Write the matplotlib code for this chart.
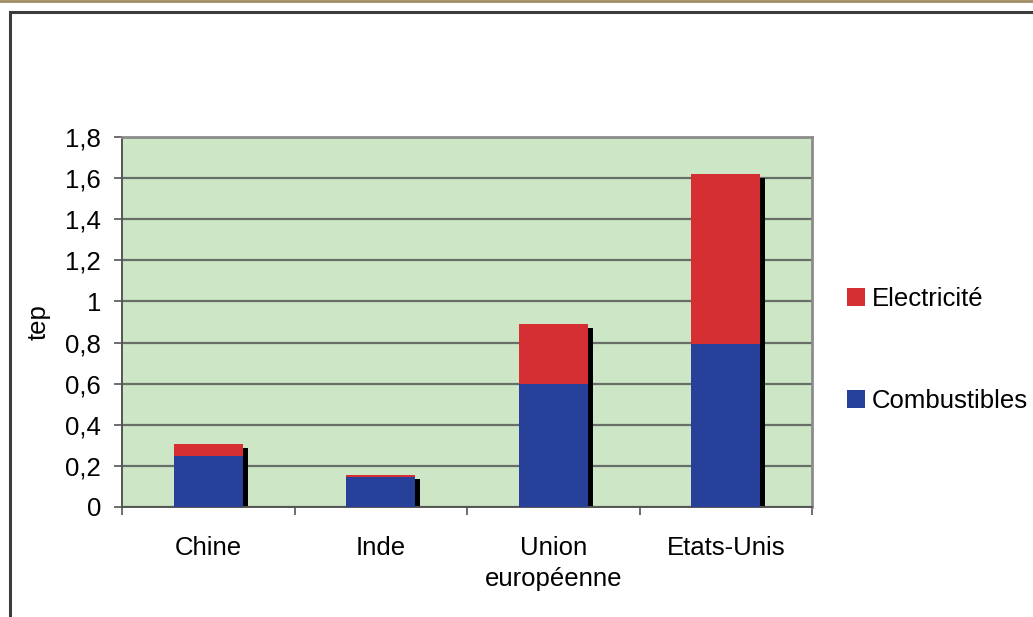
import matplotlib
matplotlib.use("Agg")
import matplotlib.pyplot as plt
import matplotlib.transforms as mtransforms
from matplotlib.patches import Rectangle, Patch
import numpy as np

plt.rcParams['font.family'] = ['Liberation Sans', 'DejaVu Sans']

categories = ["Chine", "Inde", "Union\neuropéenne", "Etats-Unis"]
combustibles = [0.25, 0.145, 0.60, 0.795]
electricite = [0.055, 0.01, 0.29, 0.825]
series_names = ["Combustibles", "Electricité"]
yticks = [0, 0.2, 0.4, 0.6, 0.8, 1.0, 1.2, 1.4, 1.6, 1.8]
ytick_labels = ["0", "0,2", "0,4", "0,6", "0,8", "1", "1,2", "1,4", "1,6", "1,8"]

blue = "#27409a"
red = "#d52e33"
bg = "#cde6c5"
FS = 18.5

W, H = 1033, 617
fig = plt.figure(figsize=(W / 100, H / 100), dpi=100)

# outer frame
fig.add_artist(Rectangle((10 / W, -0.05), 1.2, (H - 12) / H + 0.05, transform=fig.transFigure,
                         fill=False, edgecolor="#3c3c3c", linewidth=2.2))
fig.add_artist(plt.Line2D([0, 1], [1 - 1 / H, 1 - 1 / H], transform=fig.transFigure,
                          color="#a08c64", linewidth=2))

ax = fig.add_axes([122 / W, (H - 507) / H, (812 - 122) / W, (507 - 137) / H])
ax.set_facecolor(bg)

x = np.arange(len(categories))
width = 0.4
totals = [c + e for c, e in zip(combustibles, electricite)]

shadow_tr = ax.transData + mtransforms.ScaledTranslation(5 / 100, -4 / 100, fig.dpi_scale_trans)
ax.bar(x, totals, width=width, color="black", transform=shadow_tr, zorder=2)
ax.bar(x, combustibles, width=width, color=blue, zorder=3, label=series_names[0])
ax.bar(x, electricite, width=width, bottom=combustibles, color=red, zorder=3, label=series_names[1])

ax.set_xlim(-0.5, len(categories) - 0.5)
ax.set_ylim(0, 1.8)
ax.set_yticks(yticks)
ax.set_yticklabels(ytick_labels)
ax.set_xticks(x)
ax.set_xticklabels(categories, linespacing=1.38)
ax.set_xticks(np.arange(len(categories) + 1) - 0.5, minor=True)
ax.tick_params(axis="x", which="major", length=0, pad=21, labelsize=FS)
ax.tick_params(axis="x", which="minor", length=6, width=1.2, color="#555555", direction="out")
ax.tick_params(axis="y", length=6, width=1.2, color="#555555", pad=9, labelsize=FS)

ax.yaxis.grid(True, color="#676d67", linewidth=1.6, zorder=1)
ax.set_axisbelow(True)
for s in ["left", "bottom"]:
    ax.spines[s].set_color("#555555")
    ax.spines[s].set_linewidth(1.4)
for s in ["top", "right"]:
    ax.spines[s].set_color("#8c8c8c")
    ax.spines[s].set_linewidth(2)

ax.set_ylabel("tep", fontsize=FS)
ax.yaxis.set_label_coords(-0.122 + 0.018, 0.5)

handles = [Patch(facecolor=red), Patch(facecolor=blue)]
fig.legend(handles, [series_names[1], series_names[0]], loc="center left",
           bbox_to_anchor=(847 / W, (H - 350) / H), frameon=False, fontsize=FS,
           handlelength=0.7, handleheight=0.7, handletextpad=0.25, labelspacing=3.0,
           borderpad=0, borderaxespad=0)

fig.savefig("out.png", dpi=100)
